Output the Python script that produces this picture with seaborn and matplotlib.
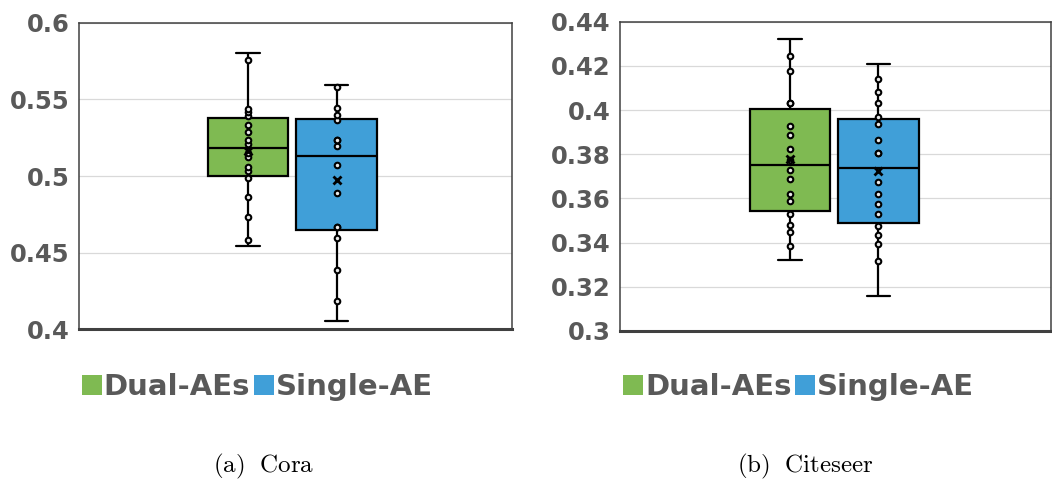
import numpy as np
import pandas as pd
import matplotlib
matplotlib.use("Agg")
import matplotlib.pyplot as plt
from matplotlib.patches import Patch
import seaborn as sns

# Clustering accuracy over repeated runs for each model variant
methods = ["Dual-AEs", "Single-AE"]
colors = ["#7fba52", "#409fd8"]

cora_dual = [0.4547, 0.458, 0.4732, 0.4866, 0.4985, 0.5035, 0.506, 0.5125, 0.5147,
             0.5212, 0.5234, 0.5288, 0.533, 0.539, 0.5418, 0.544, 0.5758, 0.5803]
cora_single = [0.4058, 0.4188, 0.439, 0.4595, 0.467, 0.467, 0.4892, 0.507, 0.5195,
               0.5234, 0.5234, 0.5364, 0.5396, 0.5446, 0.558, 0.5591]
citeseer_dual = [0.3323, 0.3384, 0.3446, 0.3479, 0.3527, 0.3589, 0.3622, 0.369, 0.3728,
                 0.3773, 0.3826, 0.3885, 0.3929, 0.403, 0.403, 0.4177, 0.4245, 0.432]
citeseer_single = [0.3157, 0.3317, 0.3393, 0.3434, 0.3476, 0.3527, 0.3574, 0.3619, 0.3672,
                   0.3804, 0.3804, 0.3863, 0.3937, 0.397, 0.4033, 0.408, 0.4139, 0.4208]

cora_ticks = [0.4, 0.45, 0.5, 0.55, 0.6]
cora_ticklabels = ["0.4", "0.45", "0.5", "0.55", "0.6"]
citeseer_ticks = [0.30, 0.32, 0.34, 0.36, 0.38, 0.40, 0.42, 0.44]
citeseer_ticklabels = ["0.3", "0.32", "0.34", "0.36", "0.38", "0.4", "0.42", "0.44"]

captions = [r"$\mathrm{(a)\ \ Cora}$", r"$\mathrm{(b)\ \ Citeseer}$"]

sns.set_style("white")
plt.rcParams["font.family"] = ["DejaVu Sans"]
plt.rcParams["mathtext.fontset"] = "cm"

TEXT = "#595959"
SPINE = "#404040"
palette = dict(zip(methods, colors))


def make_frame(a, b):
    return pd.DataFrame({
        "method": [methods[0]] * len(a) + [methods[1]] * len(b),
        "value": list(a) + list(b),
    })


fig = plt.figure(figsize=(10.52, 4.95), dpi=100)
ax_l = fig.add_axes([0.0751, 0.3345, 0.4116, 0.6198])
ax_r = fig.add_axes([0.5894, 0.3317, 0.4097, 0.6242])

panels = [
    (ax_l, make_frame(cora_dual, cora_single), cora_ticks, cora_ticklabels, (-1.91, 2.98)),
    (ax_r, make_frame(citeseer_dual, citeseer_single), citeseer_ticks, citeseer_ticklabels, (-1.925, 2.956)),
]

for ax, df, ticks, ticklabels, xlim in panels:
    ax.set_axisbelow(True)
    ax.yaxis.grid(True, color="#d9d9d9", linewidth=0.9)
    ax.xaxis.grid(False)

    sns.boxplot(
        data=df, x="method", y="value", hue="method", order=methods,
        hue_order=methods, palette=palette, saturation=1, legend=False,
        width=0.91, whis=(0, 100), showfliers=False, linecolor="black",
        linewidth=1.6, showmeans=True, capwidths=0.265,
        meanprops=dict(marker="x", markeredgecolor="black",
                       markerfacecolor="black", markersize=6, markeredgewidth=2.0),
        ax=ax,
    )

    # inner points: every run except the two whisker extremes
    grp = df.groupby("method")["value"]
    inner = df[(df["value"] > grp.transform("min")) & (df["value"] < grp.transform("max"))]
    sns.stripplot(
        data=inner, x="method", y="value", order=methods, jitter=False,
        color="#e8e8e8", edgecolor="black", linewidth=1.5, size=4.0,
        zorder=4, ax=ax,
    )
    for line in ax.lines:
        if line.get_marker() == "x":
            line.set_zorder(6)

    ax.set_xlim(*xlim)
    ax.set_ylim(ticks[0], ticks[-1])
    ax.set_yticks(ticks)
    ax.set_yticklabels(ticklabels)
    ax.set_xticks([])
    ax.set_xlabel("")
    ax.set_ylabel("")
    ax.tick_params(axis="y", length=3, width=0.8, color="#bfbfbf", pad=4,
                   labelsize=17.5, labelcolor=TEXT)
    for lab in ax.get_yticklabels():
        lab.set_fontweight("bold")
    for side in ["left", "top", "right"]:
        ax.spines[side].set_color(SPINE)
        ax.spines[side].set_linewidth(1.1)
    ax.spines["bottom"].set_color(SPINE)
    ax.spines["bottom"].set_linewidth(2.2)

# legends under each panel
handles = [Patch(facecolor=palette[m], edgecolor="none") for m in methods]
for ax, x0 in [(ax_l, 82 / 1052), (ax_r, 623 / 1052)]:
    ax.legend(
        handles, methods, loc="center left", bbox_to_anchor=(x0, 1 - 387 / 495),
        bbox_transform=fig.transFigure, ncol=2, frameon=False, borderpad=0,
        borderaxespad=0, handlelength=0.7, handleheight=0.7, handletextpad=0.05,
        columnspacing=0.12, labelcolor=TEXT,
        prop={"family": "DejaVu Sans", "weight": "bold", "size": 21},
    )

for cap, xc in zip(captions, [264 / 1052, 805 / 1052]):
    fig.text(xc, 1 - 466 / 495, cap, ha="center", va="center", fontsize=18,
             color="black")

fig.savefig("out.png", dpi=100)
